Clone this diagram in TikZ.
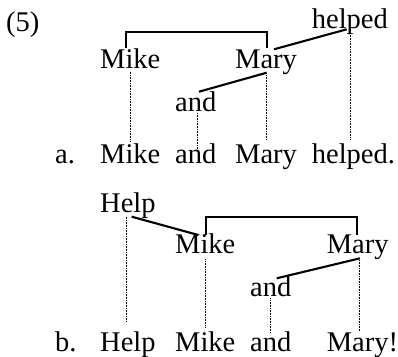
\documentclass[tikz,border=0pt]{standalone}
\usepackage{fontspec}
\setmainfont{Liberation Serif}
\begin{document}
\begin{tikzpicture}[x=1pt,y=-1pt,
  word/.style={anchor=base west,inner sep=0pt,font=\fontsize{28.5}{34}\selectfont},
  dep/.style={line width=2.1pt},
  proj/.style={line width=0.8pt,dash pattern=on 0.8pt off 0.8pt}]
\useasboundingbox (0,0) rectangle (398,356);

% ---- (5a): Mike and Mary helped.
\node[word] (ex) at (6,31.5) {(5)};
\node[word] (helpedA) at (311.7,28.3) {helped};
\node[word] (mikeA) at (100,68.3) {Mike};
\node[word] (maryA) at (235,68.3) {Mary};
\node[word] (andA) at (175,111.7) {and};
\node[word] (labA) at (55,163.5) {a.};
\node[word] (mikeAs) at (100,163.5) {Mike};
\node[word] (andAs) at (175,163.5) {and};
\node[word] (maryAs) at (235,163.5) {Mary};
\node[word] (helpedAs) at (311.7,163.5) {helped.};

\draw[dep] ([shift={(26,-20)}]mikeA.base west) -- ++(0,-16.6)
  -| ([shift={(31.7,-20)}]maryA.base west);
\draw[dep] ([shift={(35,1)}]helpedA.base west) -- ([shift={(39,-19)}]maryA.base west);
\draw[dep] ([shift={(31.7,4.4)}]maryA.base west) -- ([shift={(24,-20)}]andA.base west);

\draw[proj] ([shift={(30,3.4)}]mikeA.base west) -- ([shift={(30,-21.8)}]mikeAs.base west);
\draw[proj] ([shift={(22.7,1.3)}]andA.base west) -- ([shift={(22.7,-15.2)}]andAs.base west);
\draw[proj] ([shift={(31.7,6.7)}]maryA.base west) -- ([shift={(31.7,-23.5)}]maryAs.base west);
\draw[proj] ([shift={(38.3,4.7)}]helpedA.base west) -- ([shift={(38.3,-23.5)}]helpedAs.base west);

% ---- (5b): Help Mike and Mary!
\node[word] (helpB) at (100,212.3) {Help};
\node[word] (mikeB) at (175,253.3) {Mike};
\node[word] (maryB) at (326.7,253.3) {Mary};
\node[word] (andB) at (250,296.7) {and};
\node[word] (labB) at (55,351) {b.};
\node[word] (helpBs) at (100,351) {Help};
\node[word] (mikeBs) at (175,351) {Mike};
\node[word] (andBs) at (250,351) {and};
\node[word] (maryBs) at (326.7,351) {Mary!};

\draw[dep] ([shift={(31.7,4.4)}]helpB.base west) -- ([shift={(23.3,-18.3)}]mikeB.base west);
\draw[dep] ([shift={(31,-18.3)}]mikeB.base west) -- ++(0,-18.3)
  -| ([shift={(30.6,-18.3)}]maryB.base west);
\draw[dep] ([shift={(33.3,5)}]maryB.base west) -- ([shift={(26.7,-18.4)}]andB.base west);

\draw[proj] ([shift={(26.7,4.4)}]helpB.base west) -- ([shift={(26.7,-29.3)}]helpBs.base west);
\draw[proj] ([shift={(30.7,6)}]mikeB.base west) -- ([shift={(30.7,-24.3)}]mikeBs.base west);
\draw[proj] ([shift={(20.7,1.6)}]andB.base west) -- ([shift={(20.7,-17.7)}]andBs.base west);
\draw[proj] ([shift={(32.6,6.7)}]maryB.base west) -- ([shift={(32.6,-19.3)}]maryBs.base west);
\end{tikzpicture}
\end{document}
